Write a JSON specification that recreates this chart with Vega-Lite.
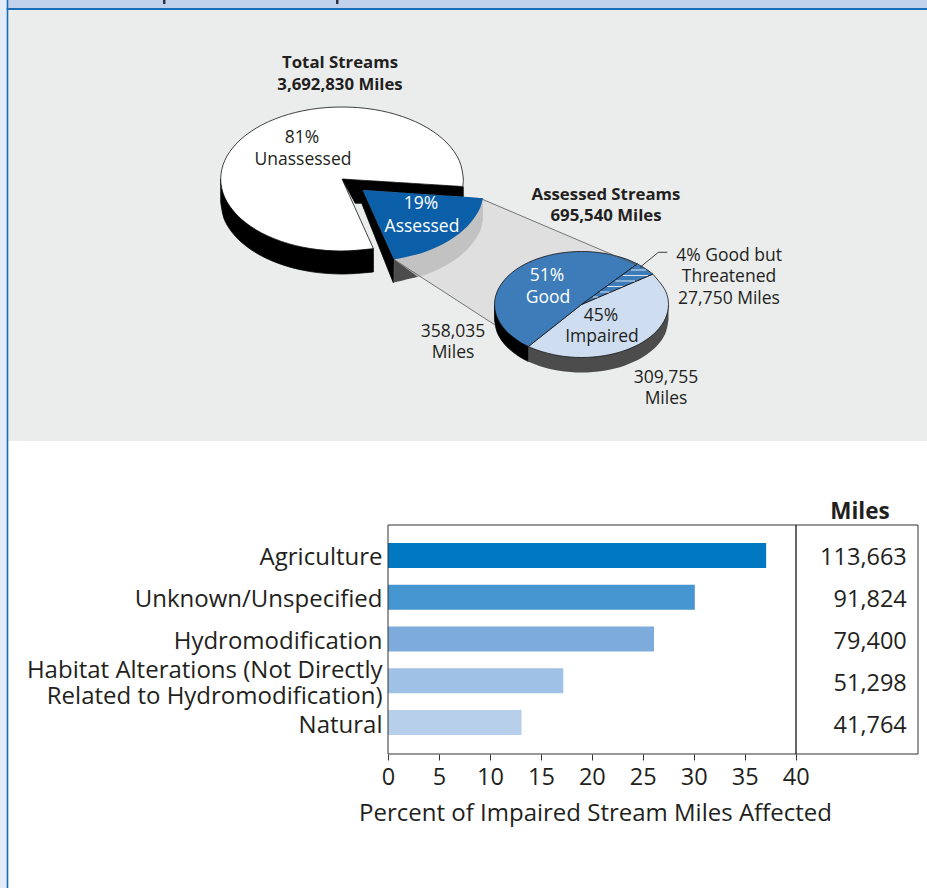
{
"$schema":"https://vega.github.io/schema/vega-lite/v6.json",
"width":927,"height":888,"padding":0,"autosize":{"type":"none"},"background":"#ffffff",
"config":{"view":{"stroke":null},"font":"Open Sans"},
"datasets":{
"panels":[
{"region":"margin","x":0,"x2":7,"y":0,"y2":888},
{"region":"band","x":8,"x2":927,"y":0,"y2":8},
{"region":"panel","x":8,"x2":927,"y":10,"y2":441},
{"region":"rule","x":6.7,"x2":8.3,"y":0,"y2":888},
{"region":"rule","x":6.7,"x2":927,"y":8,"y2":10},
{"region":"ink","x":163,"x2":165.5,"y":0,"y2":4},
{"region":"ink","x":336,"x2":338.5,"y":0,"y2":4}
],
"frame":[
{"x":388,"x2":918,"y":525,"y2":754},
{"x":796,"x2":796,"y":525,"y2":754}
],
"shapes":[
{"part":"bigside","region":"black","x":373.4,"y":248.6},{"part":"bigside","region":"black","x":373.4,"y":248.6},
{"part":"bigside","region":"black","x":373.4,"y":272},{"part":"bigside","region":"black","x":373.4,"y":272},
{"part":"bigside","region":"black","x":342,"y":274},{"part":"bigside","region":"black","x":310.6,"y":271.6},
{"part":"bigside","region":"black","x":281.4,"y":264.4},{"part":"bigside","region":"black","x":256.2,"y":252.9},
{"part":"bigside","region":"black","x":237,"y":238},{"part":"bigside","region":"black","x":224.8,"y":220.6},
{"part":"bigside","region":"black","x":220.7,"y":202},{"part":"bigside","region":"black","x":220.7,"y":202},
{"part":"bigside","region":"black","x":220.7,"y":179},{"part":"bigside","region":"black","x":220.7,"y":179},
{"part":"bigside","region":"black","x":373.4,"y":248.6},

{"part":"wall","region":"black","x":341.7,"y":178.3},{"part":"wall","region":"black","x":341.7,"y":178.3},
{"part":"wall","region":"black","x":463.3,"y":186.7},{"part":"wall","region":"black","x":463.3,"y":186.7},
{"part":"wall","region":"black","x":463.3,"y":196.7},{"part":"wall","region":"black","x":463.3,"y":196.7},
{"part":"wall","region":"black","x":362.7,"y":190},{"part":"wall","region":"black","x":362.7,"y":190},
{"part":"wall","region":"black","x":394,"y":259.3},{"part":"wall","region":"black","x":394,"y":259.3},
{"part":"wall","region":"black","x":393.3,"y":282.7},{"part":"wall","region":"black","x":393.3,"y":282.7},
{"part":"wall","region":"black","x":361.7,"y":203.3},{"part":"wall","region":"black","x":361.7,"y":203.3},
{"part":"wall","region":"black","x":355.3,"y":203.3},{"part":"wall","region":"black","x":355.3,"y":203.3},
{"part":"wall","region":"black","x":341.7,"y":178.3},

{"part":"bigface","region":"unassessed","x":342,"y":179},{"part":"bigface","region":"unassessed","x":342,"y":179},
{"part":"bigface","region":"unassessed","x":373.4,"y":248.6},{"part":"bigface","region":"unassessed","x":373.4,"y":248.6},
{"part":"bigface","region":"unassessed","x":342,"y":251},{"part":"bigface","region":"unassessed","x":310.6,"y":248.6},
{"part":"bigface","region":"unassessed","x":281.4,"y":241.4},{"part":"bigface","region":"unassessed","x":256.2,"y":229.9},
{"part":"bigface","region":"unassessed","x":237,"y":215},{"part":"bigface","region":"unassessed","x":224.8,"y":197.6},
{"part":"bigface","region":"unassessed","x":220.7,"y":179},{"part":"bigface","region":"unassessed","x":224.8,"y":160.4},
{"part":"bigface","region":"unassessed","x":237,"y":143},{"part":"bigface","region":"unassessed","x":256.2,"y":128.1},
{"part":"bigface","region":"unassessed","x":281.4,"y":116.6},{"part":"bigface","region":"unassessed","x":310.6,"y":109.4},
{"part":"bigface","region":"unassessed","x":342,"y":107},{"part":"bigface","region":"unassessed","x":373.4,"y":109.4},
{"part":"bigface","region":"unassessed","x":402.6,"y":116.6},{"part":"bigface","region":"unassessed","x":427.8,"y":128.1},
{"part":"bigface","region":"unassessed","x":447,"y":143},{"part":"bigface","region":"unassessed","x":459.2,"y":160.4},
{"part":"bigface","region":"unassessed","x":463.3,"y":179},
{"part":"bigface","region":"unassessed","x":462.7,"y":186.5},{"part":"bigface","region":"unassessed","x":462.7,"y":186.5},
{"part":"bigface","region":"unassessed","x":342,"y":179},

{"part":"funnel","region":"funnel","x":481.7,"y":199},{"part":"funnel","region":"funnel","x":481.7,"y":199},
{"part":"funnel","region":"funnel","x":636.7,"y":265},{"part":"funnel","region":"funnel","x":636.7,"y":265},
{"part":"funnel","region":"funnel","x":495,"y":325},{"part":"funnel","region":"funnel","x":495,"y":325},
{"part":"funnel","region":"funnel","x":394,"y":259.5},{"part":"funnel","region":"funnel","x":394,"y":259.5},

{"part":"wedgelight","region":"sidelight","x":482.9,"y":198.1},{"part":"wedgelight","region":"sidelight","x":482.9,"y":198.1},
{"part":"wedgelight","region":"sidelight","x":482.9,"y":220},{"part":"wedgelight","region":"sidelight","x":482.9,"y":220},
{"part":"wedgelight","region":"sidelight","x":479.9,"y":231.6},{"part":"wedgelight","region":"sidelight","x":467.7,"y":249},
{"part":"wedgelight","region":"sidelight","x":448.5,"y":263.9},{"part":"wedgelight","region":"sidelight","x":423.4,"y":275.4},
{"part":"wedgelight","region":"sidelight","x":418,"y":276.8},{"part":"wedgelight","region":"sidelight","x":418,"y":276.8},
{"part":"wedgelight","region":"sidelight","x":394.1,"y":259.5},{"part":"wedgelight","region":"sidelight","x":394.1,"y":259.5},

{"part":"wedgedark","region":"sidedark","x":394.1,"y":259.5},{"part":"wedgedark","region":"sidedark","x":394.1,"y":259.5},
{"part":"wedgedark","region":"sidedark","x":418,"y":276.8},{"part":"wedgedark","region":"sidedark","x":418,"y":276.8},
{"part":"wedgedark","region":"sidedark","x":394,"y":282.5},{"part":"wedgedark","region":"sidedark","x":394,"y":282.5},

{"part":"assessed","region":"assessed","x":362.7,"y":190},{"part":"assessed","region":"assessed","x":362.7,"y":190},
{"part":"assessed","region":"assessed","x":482.9,"y":198.1},{"part":"assessed","region":"assessed","x":482.9,"y":198.1},
{"part":"assessed","region":"assessed","x":479.9,"y":208.6},{"part":"assessed","region":"assessed","x":467.7,"y":226},
{"part":"assessed","region":"assessed","x":448.5,"y":240.9},{"part":"assessed","region":"assessed","x":423.4,"y":252.4},
{"part":"assessed","region":"assessed","x":394.1,"y":259.5},{"part":"assessed","region":"assessed","x":394.1,"y":259.5},

{"part":"smallblack","region":"black","x":494.5,"y":304.5},{"part":"smallblack","region":"black","x":494.5,"y":304.5},
{"part":"smallblack","region":"black","x":494.5,"y":319.5},{"part":"smallblack","region":"black","x":494.5,"y":319.5},
{"part":"smallblack","region":"black","x":497.5,"y":333.2},{"part":"smallblack","region":"black","x":506.2,"y":346},
{"part":"smallblack","region":"black","x":520,"y":357},
{"part":"smallblack","region":"black","x":528.4,"y":361.5},{"part":"smallblack","region":"black","x":528.4,"y":361.5},
{"part":"smallblack","region":"black","x":528.4,"y":346.5},{"part":"smallblack","region":"black","x":528.4,"y":346.5},

{"part":"smallgray","region":"sidedark","x":528.4,"y":346.5},{"part":"smallgray","region":"sidedark","x":528.4,"y":346.5},
{"part":"smallgray","region":"sidedark","x":528.4,"y":361.5},{"part":"smallgray","region":"sidedark","x":528.4,"y":361.5},
{"part":"smallgray","region":"sidedark","x":538,"y":365.4},{"part":"smallgray","region":"sidedark","x":559,"y":370.7},
{"part":"smallgray","region":"sidedark","x":581.5,"y":372.5},{"part":"smallgray","region":"sidedark","x":604,"y":370.7},
{"part":"smallgray","region":"sidedark","x":625,"y":365.4},{"part":"smallgray","region":"sidedark","x":643,"y":357},
{"part":"smallgray","region":"sidedark","x":656.8,"y":346},{"part":"smallgray","region":"sidedark","x":665.5,"y":333.2},
{"part":"smallgray","region":"sidedark","x":668.5,"y":319.5},{"part":"smallgray","region":"sidedark","x":668.5,"y":319.5},
{"part":"smallgray","region":"sidedark","x":668.5,"y":304.5},{"part":"smallgray","region":"sidedark","x":668.5,"y":304.5},

{"part":"impaired","region":"impaired","x":581.5,"y":304.5},{"part":"impaired","region":"impaired","x":581.5,"y":304.5},
{"part":"impaired","region":"impaired","x":652.8,"y":274.1},{"part":"impaired","region":"impaired","x":652.8,"y":274.1},
{"part":"impaired","region":"impaired","x":665.5,"y":290.8},{"part":"impaired","region":"impaired","x":668.5,"y":304.5},
{"part":"impaired","region":"impaired","x":665.5,"y":318.2},{"part":"impaired","region":"impaired","x":656.8,"y":331},
{"part":"impaired","region":"impaired","x":643,"y":342},{"part":"impaired","region":"impaired","x":625,"y":350.4},
{"part":"impaired","region":"impaired","x":604,"y":355.7},{"part":"impaired","region":"impaired","x":581.5,"y":357.5},
{"part":"impaired","region":"impaired","x":559,"y":355.7},{"part":"impaired","region":"impaired","x":538,"y":350.4},
{"part":"impaired","region":"impaired","x":528.4,"y":346.5},{"part":"impaired","region":"impaired","x":528.4,"y":346.5},
{"part":"impaired","region":"impaired","x":581.5,"y":304.5},

{"part":"good","region":"good","x":581.5,"y":304.5},{"part":"good","region":"good","x":581.5,"y":304.5},
{"part":"good","region":"good","x":528.4,"y":346.5},{"part":"good","region":"good","x":528.4,"y":346.5},
{"part":"good","region":"good","x":520,"y":342},{"part":"good","region":"good","x":506.2,"y":331},
{"part":"good","region":"good","x":497.5,"y":318.2},{"part":"good","region":"good","x":494.5,"y":304.5},
{"part":"good","region":"good","x":497.5,"y":290.8},{"part":"good","region":"good","x":506.2,"y":278},
{"part":"good","region":"good","x":520,"y":267},{"part":"good","region":"good","x":538,"y":258.6},
{"part":"good","region":"good","x":559,"y":253.3},{"part":"good","region":"good","x":581.5,"y":251.5},
{"part":"good","region":"good","x":604,"y":253.3},{"part":"good","region":"good","x":625,"y":258.6},
{"part":"good","region":"good","x":637.4,"y":263.9},{"part":"good","region":"good","x":637.4,"y":263.9},
{"part":"good","region":"good","x":581.5,"y":304.5},

{"part":"threatened","region":"good","x":581.5,"y":304.5},{"part":"threatened","region":"good","x":581.5,"y":304.5},
{"part":"threatened","region":"good","x":637.4,"y":263.9},{"part":"threatened","region":"good","x":637.4,"y":263.9},
{"part":"threatened","region":"good","x":645.5,"y":268.6},
{"part":"threatened","region":"good","x":652.8,"y":274.1},{"part":"threatened","region":"good","x":652.8,"y":274.1},
{"part":"threatened","region":"good","x":581.5,"y":304.5},

{"part":"s1","region":"stripe","x":631,"y":270},{"part":"s1","region":"stripe","x":646,"y":270},
{"part":"s2","region":"stripe","x":623,"y":275.5},{"part":"s2","region":"stripe","x":648,"y":275.5},
{"part":"s3","region":"stripe","x":615.5,"y":281},{"part":"s3","region":"stripe","x":635,"y":281},
{"part":"s4","region":"stripe","x":607.5,"y":286.5},{"part":"s4","region":"stripe","x":622.5,"y":286.5},
{"part":"s5","region":"stripe","x":600,"y":292},{"part":"s5","region":"stripe","x":609.5,"y":292},
{"part":"s6","region":"stripe","x":593,"y":297},{"part":"s6","region":"stripe","x":598,"y":297},

{"part":"leader1","region":"leader","x":640,"y":267.3},{"part":"leader1","region":"leader","x":658.3,"y":252.3},
{"part":"leader2","region":"leader","x":658.3,"y":252.3},{"part":"leader2","region":"leader","x":667.3,"y":252.3},
{"part":"funneltop","region":"funnelline","x":481.7,"y":199},{"part":"funneltop","region":"funnelline","x":636.7,"y":265},
{"part":"funnelbottom","region":"funnelline","x":394,"y":259.5},{"part":"funnelbottom","region":"funnelline","x":495,"y":325}
],
"labels":[
{"text":"81%","x":302,"y":137,"tone":"dark"},{"text":"Unassessed","x":303,"y":159,"tone":"dark"},
{"text":"19%","x":421,"y":203,"tone":"light"},{"text":"Assessed","x":422,"y":226,"tone":"light"},
{"text":"51%","x":547,"y":275,"tone":"light"},{"text":"Good","x":548,"y":297,"tone":"light"},
{"text":"45%","x":601,"y":315,"tone":"dark"},{"text":"Impaired","x":602,"y":336,"tone":"dark"},
{"text":"4% Good but","x":729,"y":255,"tone":"dark"},{"text":"Threatened","x":729,"y":276,"tone":"dark"},{"text":"27,750 Miles","x":729,"y":298,"tone":"dark"},
{"text":"358,035","x":453,"y":331,"tone":"dark"},{"text":"Miles","x":453,"y":352,"tone":"dark"},
{"text":"309,755","x":666,"y":377,"tone":"dark"},{"text":"Miles","x":666,"y":398,"tone":"dark"}
],
"heads":[
{"text":"Total Streams","x":340,"y":62},{"text":"3,692,830 Miles","x":340,"y":84},
{"text":"Assessed Streams","x":606,"y":194},{"text":"695,540 Miles","x":606,"y":215}
],
"columnHead":[{"text":"Miles","x":860,"y":510}],
"causes":[
{"cause":"Agriculture","percent":37.1,"miles":"113,663"},
{"cause":"Unknown/Unspecified","percent":30.1,"miles":"91,824"},
{"cause":"Hydromodification","percent":26.1,"miles":"79,400"},
{"cause":"Habitat Alterations (Not Directly|Related to Hydromodification)","percent":17.2,"miles":"51,298"},
{"cause":"Natural","percent":13.1,"miles":"41,764"}
]
},
"resolve":{"scale":{"x":"independent","y":"independent","color":"independent","fill":"independent","stroke":"independent"},"axis":{"x":"independent","y":"independent"}},
"layer":[
{"data":{"name":"panels"},"mark":{"type":"rect"},
 "encoding":{
  "x":{"field":"x","type":"quantitative","scale":{"domain":[0,927],"range":[0,927],"nice":false,"zero":false},"axis":null},
  "x2":{"field":"x2"},
  "y":{"field":"y","type":"quantitative","scale":{"domain":[0,888],"range":[0,888],"nice":false,"zero":false},"axis":null},
  "y2":{"field":"y2"},
  "color":{"field":"region","type":"nominal","legend":null,"scale":{"domain":["margin","band","panel","rule","ink"],"range":["#e4ebf8","#c3d2ec","#ebeded","#1a6db5","#33333f"]}}
 }},
{"data":{"name":"causes"},"mark":{"type":"bar"},
 "encoding":{
  "x":{"field":"percent","type":"quantitative","scale":{"domain":[0,52],"range":[388,918],"nice":false},
   "axis":{"values":[0,5,10,15,20,25,30,35,40],"offset":-134,"grid":false,"domain":false,"tickColor":"#333333","tickSize":6,"labelFontSize":23.5,"labelColor":"#231f20","labelPadding":5,"labelFlush":false,"labelOverlap":false,"title":"Percent of Impaired Stream Miles Affected","titleFontSize":24,"titleFontWeight":"normal","titleColor":"#231f20","titleX":595,"titleY":47,"labelFont":"Open Sans","titleFont":"Open Sans"}},
  "y":{"field":"cause","type":"nominal","sort":null,"scale":{"type":"band","domain":["Agriculture","Unknown/Unspecified","Hydromodification","Habitat Alterations (Not Directly|Related to Hydromodification)","Natural"],"range":[534.6,743.4],"paddingInner":0.4,"paddingOuter":0.2},
   "axis":{"offset":-388,"title":null,"domain":false,"ticks":false,"grid":false,"labelPadding":6,"labelFontSize":24,"labelColor":"#231f20","labelLimit":0,"labelFont":"Open Sans","labelExpr":"split(datum.label,'|')",
    "labelOffset":{"expr":"indexof(datum.value,'|')>=0 ? -10 : 3"}}},
  "color":{"field":"cause","type":"nominal","sort":null,"legend":null,"scale":{"domain":["Agriculture","Unknown/Unspecified","Hydromodification","Habitat Alterations (Not Directly|Related to Hydromodification)","Natural"],"range":["#0079c2","#4595d1","#7dabdc","#a0c1e6","#b8cfec"]}}
 }},
{"data":{"name":"causes"},"mark":{"type":"text","align":"right","fontSize":23.5,"color":"#231f20","dy":3},
 "encoding":{
  "x":{"datum":50.9,"type":"quantitative","scale":{"domain":[0,52],"range":[388,918],"nice":false},"axis":null},
  "y":{"field":"cause","type":"nominal","sort":null,"scale":{"type":"band","domain":["Agriculture","Unknown/Unspecified","Hydromodification","Habitat Alterations (Not Directly|Related to Hydromodification)","Natural"],"range":[534.6,743.4],"paddingInner":0.4,"paddingOuter":0.2},"axis":null},
  "text":{"field":"miles"}
 }},
{"data":{"name":"frame"},"mark":{"type":"rect","fill":"transparent","stroke":"#333333","strokeWidth":1},
 "encoding":{
  "x":{"field":"x","type":"quantitative","scale":{"domain":[0,927],"range":[0,927],"nice":false,"zero":false},"axis":null},
  "x2":{"field":"x2"},
  "y":{"field":"y","type":"quantitative","scale":{"domain":[0,888],"range":[0,888],"nice":false,"zero":false},"axis":null},
  "y2":{"field":"y2"}
 }},
{"data":{"name":"shapes"},"mark":{"type":"line","interpolate":"catmull-rom","strokeWidth":0.8,"strokeJoin":"miter"},
 "encoding":{
  "x":{"field":"x","type":"quantitative","scale":{"domain":[0,927],"range":[0,927],"nice":false,"zero":false},"axis":null},
  "y":{"field":"y","type":"quantitative","scale":{"domain":[0,888],"range":[0,888],"nice":false,"zero":false},"axis":null},
  "detail":{"field":"part"},
  "order":{"value":null},
  "fill":{"field":"region","type":"nominal","legend":null,"scale":{"domain":["black","unassessed","funnel","sidelight","sidedark","assessed","impaired","good","stripe","leader","funnelline"],"range":["#000000","#ffffff","#dfdfdf","#c2c2c2","#4c4c4c","#0b5fa8","#cedef0","#3d7cb9","transparent","transparent","transparent"]}},
  "stroke":{"field":"region","type":"nominal","legend":null,"scale":{"domain":["black","unassessed","funnel","sidelight","sidedark","assessed","impaired","good","stripe","leader","funnelline"],"range":["#000000","#111111","transparent","transparent","transparent","transparent","#111111","#111111","#ffffff","#111111","#555555"]}}
 }},
{"data":{"name":"labels"},"mark":{"type":"text","fontSize":17.5,"align":"center","baseline":"middle","dy":1},
 "encoding":{
  "x":{"field":"x","type":"quantitative","scale":{"domain":[0,927],"range":[0,927],"nice":false,"zero":false},"axis":null},
  "y":{"field":"y","type":"quantitative","scale":{"domain":[0,888],"range":[0,888],"nice":false,"zero":false},"axis":null},
  "text":{"field":"text"},
  "color":{"field":"tone","type":"nominal","legend":null,"scale":{"domain":["dark","light"],"range":["#231f20","#ffffff"]}}
 }},
{"data":{"name":"heads"},"mark":{"type":"text","fontSize":16.8,"fontWeight":"bold","color":"#231f20","align":"center","baseline":"middle","dy":1},
 "encoding":{
  "x":{"field":"x","type":"quantitative","scale":{"domain":[0,927],"range":[0,927],"nice":false,"zero":false},"axis":null},
  "y":{"field":"y","type":"quantitative","scale":{"domain":[0,888],"range":[0,888],"nice":false,"zero":false},"axis":null},
  "text":{"field":"text"}
 }},
{"data":{"name":"columnHead"},"mark":{"type":"text","fontSize":22.5,"fontWeight":"bold","color":"#231f20","align":"center","baseline":"middle","dy":2},
 "encoding":{
  "x":{"field":"x","type":"quantitative","scale":{"domain":[0,927],"range":[0,927],"nice":false,"zero":false},"axis":null},
  "y":{"field":"y","type":"quantitative","scale":{"domain":[0,888],"range":[0,888],"nice":false,"zero":false},"axis":null},
  "text":{"field":"text"}
 }}
]
}
